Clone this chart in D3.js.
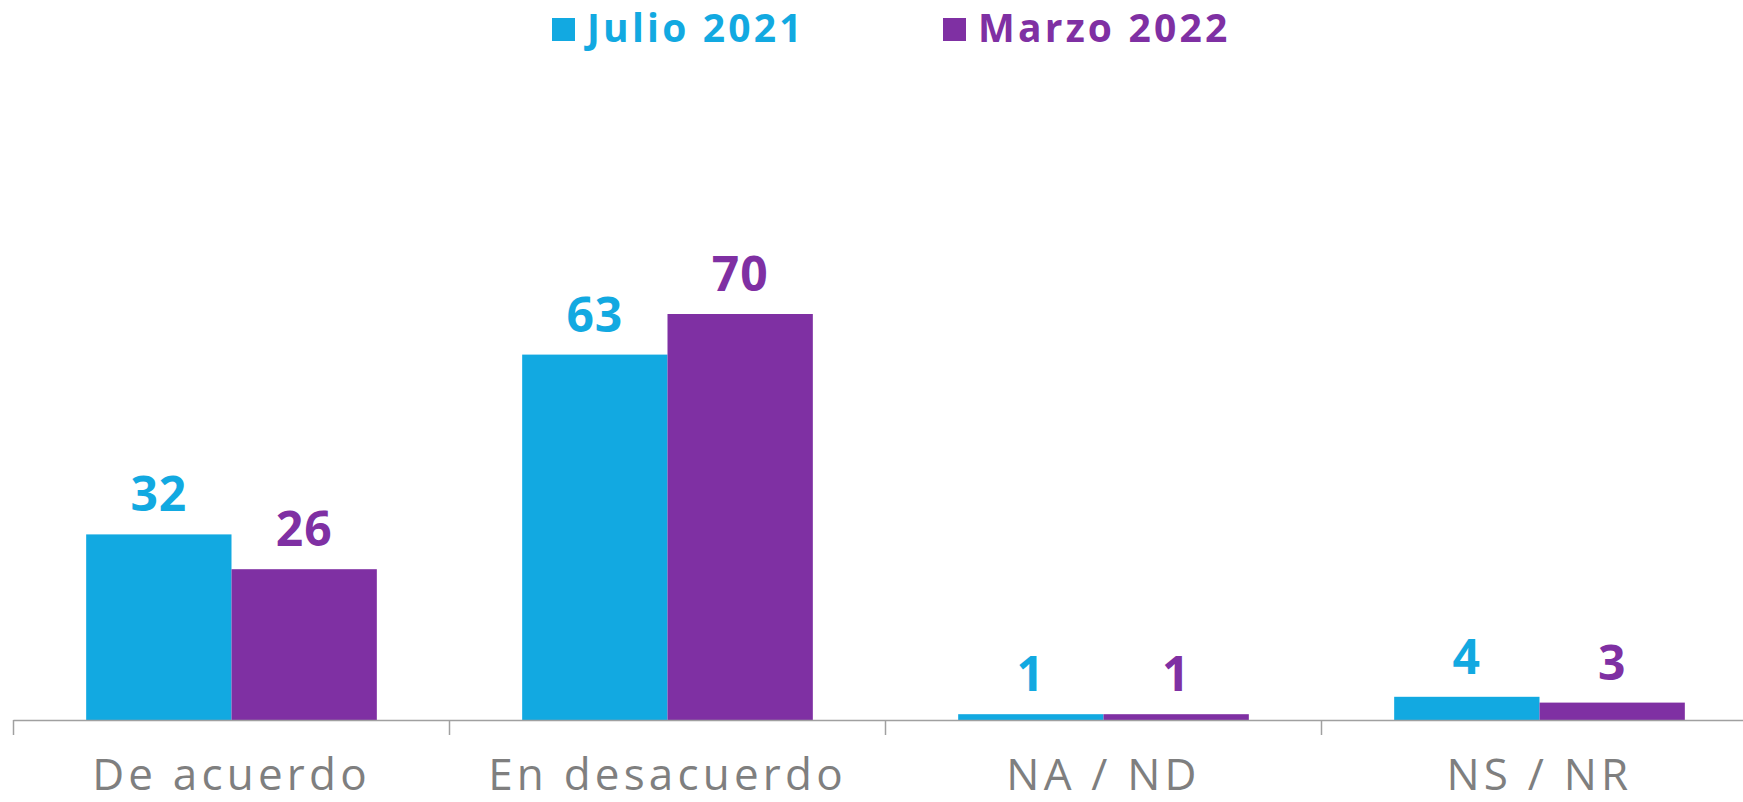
<!DOCTYPE html>
<html>
<head>
<meta charset="utf-8">
<script src="https://cdn.jsdelivr.net/npm/d3@7"></script>
<style>
  html, body { margin: 0; padding: 0; background: #ffffff; }
  svg { display: block; }
</style>
</head>
<body>
<svg id="chart" width="1743" height="802"></svg>
<script>
const categories = ["De acuerdo", "En desacuerdo", "NA / ND", "NS / NR"];
const seriesNames = ["Julio 2021", "Marzo 2022"];
const julio2021 = [32, 63, 1, 4];
const marzo2022 = [26, 70, 1, 3];
const seriesColors = ["#12a9e1", "#7f30a3"];

const seriesValues = [julio2021, marzo2022];
const data = categories.map((c, i) => ({
  category: c,
  values: seriesNames.map((s, j) => ({ series: s, value: seriesValues[j][i], color: seriesColors[j] }))
}));

const svg = d3.select("#chart");
const W = 1743, H = 802;
const baseY = 720;
const x0 = d3.scaleBand().domain(categories).range([13.5, 1757.5]).paddingInner(1/3).paddingOuter(1/6);
const x1 = d3.scaleBand().domain(seriesNames).range([0, x0.bandwidth()]).padding(0);
const y = d3.scaleLinear().domain([0, 100]).range([baseY, baseY - 580]);

const fontBold = "'Open Sans', 'Liberation Sans', sans-serif";

// bars
const groups = svg.append("g").selectAll("g").data(data).join("g")
  .attr("transform", d => `translate(${x0(d.category)},0)`);
groups.selectAll("rect").data(d => d.values).join("rect")
  .attr("x", d => x1(d.series))
  .attr("y", d => y(d.value))
  .attr("width", x1.bandwidth())
  .attr("height", d => baseY - y(d.value))
  .attr("fill", d => d.color);

// value labels
groups.selectAll("text").data(d => d.values).join("text")
  .attr("x", d => x1(d.series) + x1.bandwidth() / 2)
  .attr("y", d => y(d.value) - 23)
  .attr("text-anchor", "middle")
  .attr("font-family", fontBold)
  .attr("font-weight", 700)
  .attr("font-size", 48)
  .attr("letter-spacing", 1)
  .attr("fill", d => d.color)
  .text(d => d.value);

// axis
const axis = d3.axisBottom(x0).tickSize(0).tickFormat("");
const gAxis = svg.append("g").attr("transform", `translate(0,${baseY})`).call(axis);
gAxis.select(".domain").remove();
gAxis.append("line").attr("x1", 13.5).attr("x2", W).attr("y1", 0.5).attr("y2", 0.5)
  .attr("stroke", "#a0a0a0").attr("stroke-width", 1.5);
const boundaries = categories.map(c => x0(c) - x0.step() * x0.paddingInner() / 2);
gAxis.selectAll(".bnd").data(boundaries).join("line").attr("class", "bnd")
  .attr("x1", d => d).attr("x2", d => d).attr("y1", 0).attr("y2", 15)
  .attr("stroke", "#a0a0a0").attr("stroke-width", 1.5);

// category labels
svg.append("g").selectAll("text").data(categories).join("text")
  .attr("x", d => x0(d) + x0.bandwidth() / 2)
  .attr("y", 790)
  .attr("text-anchor", "middle")
  .attr("font-family", "'Open Sans', sans-serif")
  .attr("font-weight", 400)
  .attr("font-size", 44)
  .attr("letter-spacing", 4.2)
  .attr("fill", "#7f7f7f")
  .text(d => d);

// legend
const legendX = [552, 943];
const legend = svg.append("g").selectAll("g").data(seriesNames).join("g")
  .attr("transform", (d, i) => `translate(${legendX[i]},0)`);
legend.append("rect").attr("x", 0).attr("y", 18).attr("width", 23).attr("height", 23)
  .attr("fill", (d, i) => seriesColors[i]);
legend.append("text").attr("x", 35).attr("y", 42)
  .attr("font-family", fontBold).attr("font-weight", 700).attr("font-size", 39)
  .attr("letter-spacing", 3.2)
  .attr("fill", (d, i) => seriesColors[i])
  .text(d => d);
</script>
</body>
</html>
